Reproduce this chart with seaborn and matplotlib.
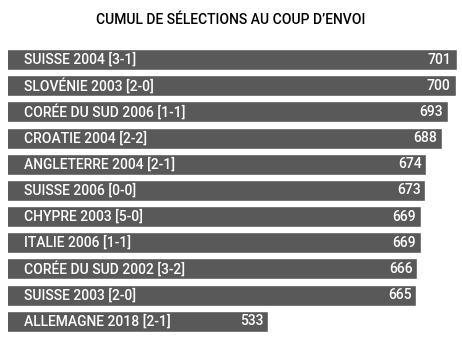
import matplotlib
matplotlib.use("Agg")
import matplotlib.pyplot as plt
import seaborn as sns
import pandas as pd

labels = ["SUISSE 2004 [3-1]", "SLOVÉNIE 2003 [2-0]", "CORÉE DU SUD 2006 [1-1]",
          "CROATIE 2004 [2-2]", "ANGLETERRE 2004 [2-1]", "SUISSE 2006 [0-0]",
          "CHYPRE 2003 [5-0]", "ITALIE 2006 [1-1]", "CORÉE DU SUD 2002 [3-2]",
          "SUISSE 2003 [2-0]", "ALLEMAGNE 2018 [2-1]"]
values = [701, 700, 693, 688, 674, 673, 669, 669, 666, 665, 533]
title = "CUMUL DE SÉLECTIONS AU COUP D\u2019ENVOI"

df = pd.DataFrame({"match": labels, "cumul": values})

sns.set_theme(style="white")
plt.rcParams['font.family'] = ['Roboto', 'DejaVu Sans']

fig = plt.figure(figsize=(4.62, 3.44), dpi=100)
ax = fig.add_axes([8 / 462, 0.028, (456.7 - 8) / 462, 0.865 - 0.028])
sns.barplot(data=df, x="cumul", y="match", color="#595959", saturation=1,
            width=0.8, ax=ax, orient="h")
ax.set_xlim(301, 701)
ax.set_ylim(len(labels) - 0.5, -0.5)
ax.axis("off")

for i, (lab, v) in enumerate(zip(labels, values)):
    ax.annotate(lab, xy=(301, i), xytext=(11.5, 0), textcoords="offset points",
                ha="left", va="center", color="white", fontsize=10,
                fontweight="medium")
    ax.annotate(str(v), xy=(v, i), xytext=(-3.5, 0), textcoords="offset points",
                ha="right", va="center", color="white", fontsize=10,
                fontweight="medium")

fig.text(231 / 462, 1 - 20 / 344, title, ha="center", va="center",
         fontsize=10, color="black", fontweight="medium")

fig.savefig("out.png", dpi=100)
